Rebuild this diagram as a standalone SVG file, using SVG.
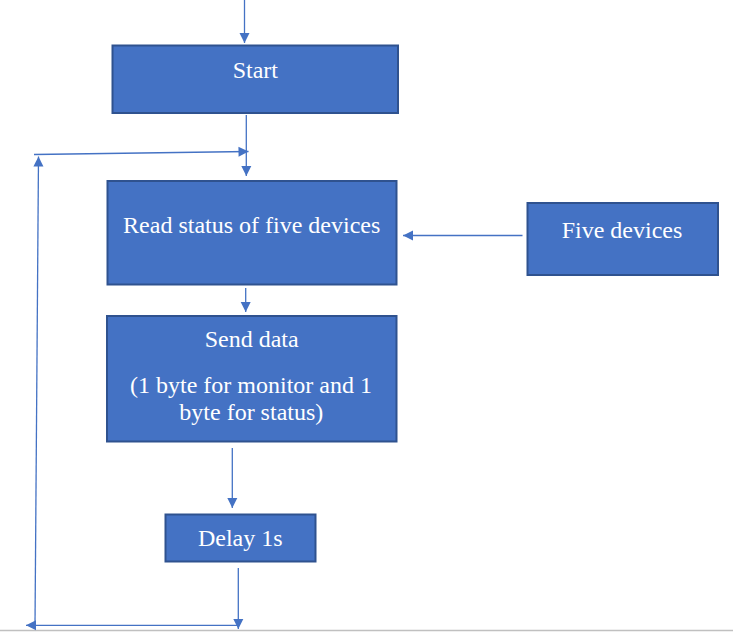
<svg xmlns="http://www.w3.org/2000/svg" width="733" height="633" viewBox="0 0 733 633">
<style>
.box{fill:#4472C4;stroke:#2F528F;stroke-width:2}
.lbl{font-size:24px;fill:#FFFFFF;text-anchor:middle}
.con{stroke:#4472C4;stroke-width:1.3;fill:none}
</style>
<defs>
<marker id="ah" markerUnits="userSpaceOnUse" markerWidth="12" markerHeight="12" viewBox="0 0 12 12" refX="11" refY="6" orient="auto">
<path d="M1,1 L11,6 L1,11 Z" fill="#4472C4"/>
</marker>
</defs>
<rect x="0" y="0" width="733" height="633" fill="#FFFFFF"/>
<line x1="0" y1="630.5" x2="733" y2="630.5" stroke="#C0C0C0" stroke-width="1.5"/>
<g id="connectors">
<line class="con" x1="244.5" y1="0" x2="244.5" y2="43" marker-end="url(#ah)"/>
<line class="con" x1="246.3" y1="115" x2="246.3" y2="176" marker-end="url(#ah)"/>
<line class="con" x1="34" y1="154.5" x2="248.5" y2="151.5" marker-end="url(#ah)"/>
<line class="con" x1="35" y1="625" x2="38.5" y2="156.5" marker-end="url(#ah)"/>
<line class="con" x1="522.5" y1="235.5" x2="403" y2="235.5" marker-end="url(#ah)"/>
<line class="con" x1="245.7" y1="288" x2="245.7" y2="312" marker-end="url(#ah)"/>
<line class="con" x1="232.3" y1="448" x2="232.3" y2="508" marker-end="url(#ah)"/>
<line class="con" x1="238.3" y1="568" x2="238.3" y2="629" marker-end="url(#ah)"/>
<line class="con" x1="238.3" y1="625.3" x2="26" y2="625.3" marker-end="url(#ah)"/>
</g>
<g id="start">
<rect class="box" x="112.5" y="45.5" width="285.5" height="67.5"/>
<text class="lbl" font-family="'Liberation Serif', 'Times New Roman', 'DejaVu Serif', serif" x="255.3" y="78.3">Start</text>
</g>
<g id="read">
<rect class="box" x="107.5" y="181" width="289" height="103.5"/>
<text class="lbl" font-family="'Liberation Serif', 'Times New Roman', 'DejaVu Serif', serif" x="251.7" y="232.7">Read status of five devices</text>
</g>
<g id="five">
<rect class="box" x="527.5" y="203" width="190.5" height="72"/>
<text class="lbl" font-family="'Liberation Serif', 'Times New Roman', 'DejaVu Serif', serif" x="622" y="238.3">Five devices</text>
</g>
<g id="send">
<rect class="box" x="107" y="316" width="289.5" height="125.5"/>
<text class="lbl" font-family="'Liberation Serif', 'Times New Roman', 'DejaVu Serif', serif" x="251.7" y="346.7">Send data</text>
<text class="lbl" font-family="'Liberation Serif', 'Times New Roman', 'DejaVu Serif', serif" x="251" y="392.7">(1 byte for monitor and 1</text>
<text class="lbl" font-family="'Liberation Serif', 'Times New Roman', 'DejaVu Serif', serif" x="251.3" y="420">byte for status)</text>
</g>
<g id="delay">
<rect class="box" x="165.5" y="514.5" width="150" height="47"/>
<text class="lbl" font-family="'Liberation Serif', 'Times New Roman', 'DejaVu Serif', serif" x="240.3" y="546">Delay 1s</text>
</g>
</svg>
